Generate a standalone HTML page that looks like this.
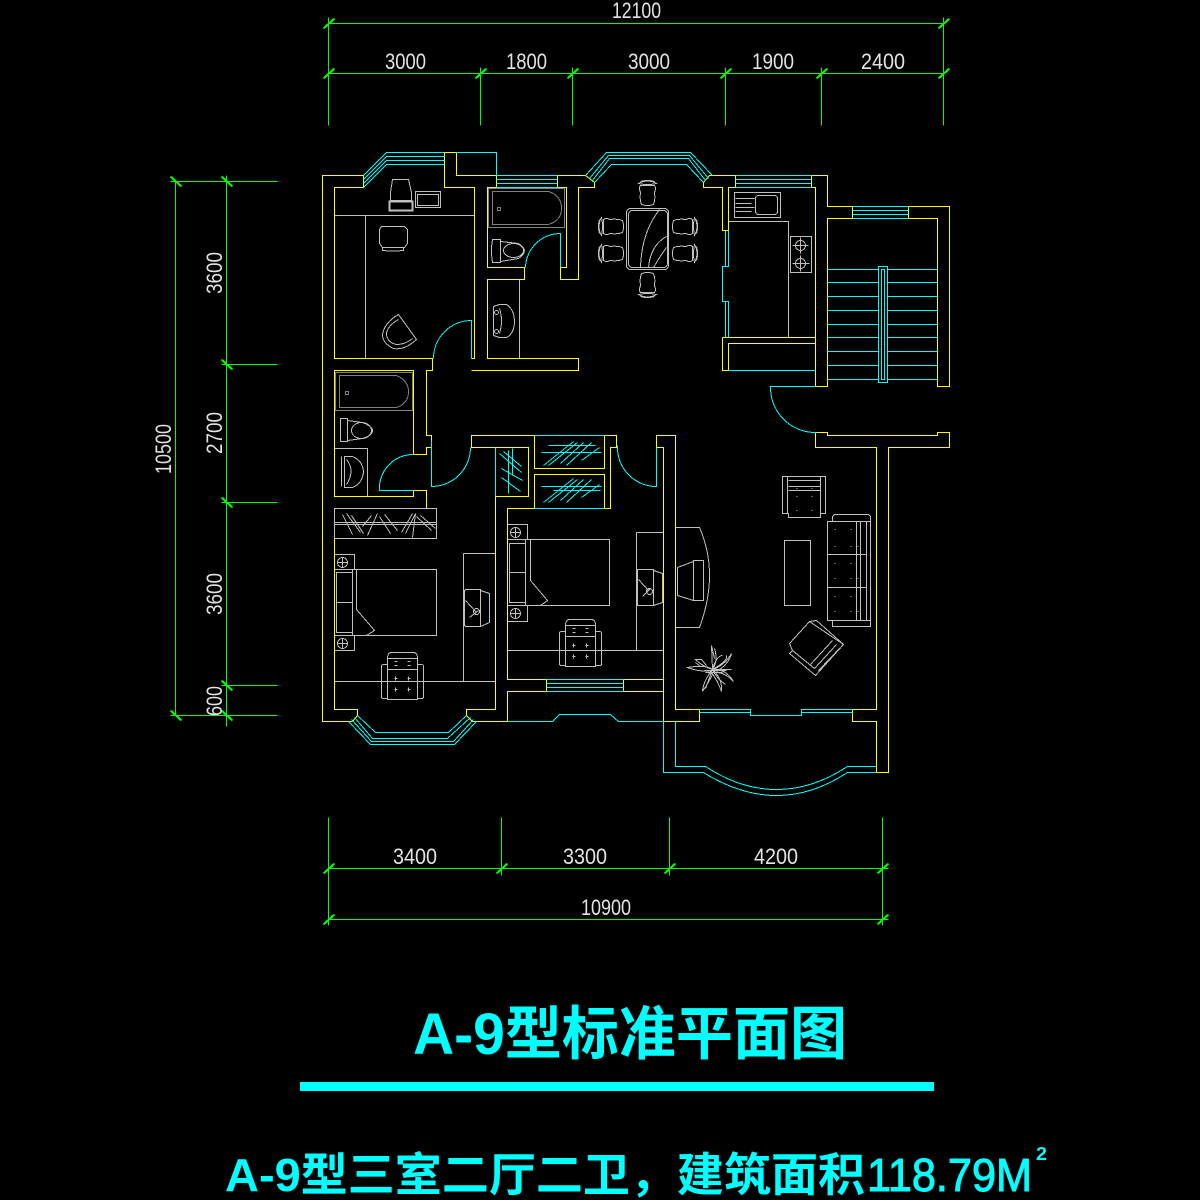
<!DOCTYPE html>
<html><head><meta charset="utf-8"><style>html,body{margin:0;padding:0;background:#000}svg{display:block}
.d{font-family:"Liberation Sans",sans-serif;font-size:22px;fill:#e4e4e4}
.t{font-family:"Liberation Sans","Noto Sans CJK SC",sans-serif;fill:#0ff;font-weight:bold}</style></head><body>
<svg xmlns="http://www.w3.org/2000/svg" width="1200" height="1200" viewBox="0 0 1200 1200">
<rect width="1200" height="1200" fill="#000"/>
<defs>
<g id="deskchair" fill="none">
<path d="M0 6V47H30V6M0 6Q0 0 4 0H26Q30 0 30 6H0M0 17H30M-4 12H0M-4 12Q-6 12 -6 14V44Q-6 46 -4 46H0M30 12H34Q36 12 36 14V44Q36 46 34 46H30"/>
<path d="M7 9h3M20 9h3M7 13h3M20 13h3M7 26h3M8 24v4M20 26h3M21 24v4M7 37h3M8 35v4M20 37h3M21 35v4" stroke-width="1"/>
</g>
<g id="din" fill="none">
<path d="M-7 -4Q-9 -9 -7 -11H7Q9 -9 7 -4Q8 3 6 8Q0 10 -6 8Q-8 3 -7 -4Z"/>
<path d="M-9 -13Q0 -18 9 -13Q0 -11 -9 -13ZM-7 -15Q0 -17 7 -15"/>
</g>
<g id="stand" fill="none"><circle cx="0" cy="0" r="5"/><path d="M-5 0H5M0 -5V5"/></g>
</defs>
<g transform="translate(.5 .5)" fill="none" stroke-width="1" shape-rendering="crispEdges">
<!-- grey furniture -->
<g stroke="#c0c0c0">
<path d="M334 215H474M365 215V358"/>
<path d="M392 179H408L411 192V200H390V192Z"/>
<rect x="389" y="201" width="23" height="9" stroke-width="2"/>
<rect x="415" y="191" width="25" height="16"/><rect x="417" y="194" width="21" height="11"/>
<path d="M381 226H404L407 229V243L404 247H382L379 243V229ZM382 247V250Q392 251 403 250V247"/>
<path d="M398 314L416 339Q404 350 393 348Q382 343 382 334Q384 322 398 314ZM398 319Q386 326 386 334Q387 342 396 344Q405 344 412 338"/>
<path d="M519 279V358"/>
<path d="M493 306V335M493 306L499 304H506Q513 308 514 320Q514 333 506 337H499L493 335M499 308Q503 320 499 333M496 310a2 2 0 1 0 .1 0M496 329a2 2 0 1 0 .1 0"/>
<path d="M492 239H500V262H492Q490 250 492 239ZM500 241L518 243Q524 247 524 250Q524 254 518 258L500 261"/>
<ellipse cx="513" cy="250" rx="10" ry="7"/>
<path d="M340 418H347V441H340ZM347 420L362 422Q372 426 372 430Q372 435 362 438L347 440"/><ellipse cx="361" cy="430" rx="10" ry="8"/>
<path d="M334 448H367V496"/>
<path d="M341 456V486M344 456H352Q362 460 363 471Q362 483 352 487H344ZM346 459Q355 470 346 484"/>
<!-- kitchen -->
<path d="M728 221H788V337"/>
<rect x="734" y="192" width="46" height="25"/>
<rect x="755" y="195" width="22" height="19" rx="3"/>
<path d="M735 198H754M735 203H751M735 207H754M735 211H751"/>
<rect x="790" y="236" width="21" height="36"/>
<use href="#stand" x="800" y="245"/><use href="#stand" x="800" y="263"/>
<path d="M792 245H808M800 237V253M792 263H809M800 255V271"/>
<!-- dining -->
<rect x="626" y="208" width="42" height="61" rx="4"/><rect x="628" y="210" width="39" height="57" rx="4"/>
<path d="M659 209Q641 232 640 267M666 236Q650 245 648 267M666 247Q660 255 653 267"/>
<use href="#din" x="647" y="196"/>
<use href="#din" transform="translate(647 281) rotate(180)"/>
<use href="#din" transform="translate(614 226) rotate(-90)"/>
<use href="#din" transform="translate(614 253) rotate(-90)"/>
<use href="#din" transform="translate(681 226) rotate(90)"/>
<use href="#din" transform="translate(681 253) rotate(90)"/>
<!-- wardrobe -->
<rect x="334" y="508" width="102" height="30"/><path d="M334 522H436M334 524H436"/>
<path d="M342 514L352 534M346 513L360 532M351 515L363 533M362 526L371 515M367 535L377 513M379 516L390 533M384 514L397 530M401 532L412 513M405 533L415 513M420 515L435 528M416 516L431 530M412 537L415 513"/>
<!-- bed 1 -->
<rect x="334" y="569" width="102" height="66"/><path d="M352 569V635M356 569V609L374 630L366 635"/>
<rect x="336" y="572" width="16" height="60"/><path d="M336 602H352"/>
<rect x="334" y="554" width="20" height="15"/><rect x="334" y="635" width="20" height="15"/>
<use href="#stand" x="342" y="562"/><use href="#stand" x="342" y="643"/>
<path d="M463 553H495M463 553V681M334 681H495"/>
<path d="M465 589H480V626H465L464 625V590ZM480 590L489 593V622L480 626M465 600L476 612M469 617L478 610"/><circle cx="476" cy="611" r="3"/>
<use href="#deskchair" x="387" y="652"/>
<!-- bed 2 -->
<rect x="525" y="539" width="84" height="66"/><path d="M530 539V580L547 600L540 605"/>
<rect x="509" y="543" width="16" height="59"/><path d="M509 572H525"/>
<rect x="507" y="524" width="20" height="15"/><rect x="507" y="605" width="20" height="16"/>
<use href="#stand" x="515" y="532"/><use href="#stand" x="515" y="613"/>
<path d="M636 532H663M636 532V650M507 650H663"/>
<path d="M637 569H653V605H637ZM653 570L662 573V602L653 605M638 579L648 590M642 596L650 588"/><circle cx="649" cy="591" r="3"/>
<use href="#deskchair" x="565" y="619"/>
<!-- living -->
<path d="M675 527H699Q709 550 709 575Q709 600 699 627H675"/>
<path d="M693 560H703V600H693ZM693 561L677 567V595L693 600"/>
<path d="M782 476H825V513H820V517H788V513H782Z"/><path d="M787 476V513M820 476V513M788 480H820M788 486H820M788 490H820"/>
<path d="M796 488h1M811 488h1M796 496h1M811 496h1M796 510h1M811 510h1"/>
<rect x="784" y="540" width="26" height="65"/>
<path d="M827 521H870V620H827ZM832 521V516L834 514H868L870 516V521M832 620V626H870V620M827 554H866M827 587H866M856 521V620M860 521V620M866 521V620"/>
<path d="M834 529h1M850 529h1M834 546h1M850 546h1M834 563h1M850 563h1M834 578h1M850 578h1M834 596h1M850 596h1M834 611h1M850 611h1M857 546h1M857 578h1M857 611h1"/>
<path d="M809 621L789 643L792 650L789 653L815 675L843 644L816 620ZM809 621L843 644M792 650L814 668M810 664L832 640M814 668L836 644M818 670L840 647"/>
<path d="M712 669L711 645L714 658M712 669Q718 660 714 648M712 669Q716 655 722 655M712 669Q724 665 731 653Q728 664 716 671M712 669H731M712 669Q725 668 733 681Q725 672 715 672M712 669Q722 678 721 691Q717 680 711 672M712 669Q703 680 702 691Q708 682 712 674M712 669Q706 664 687 667Q700 672 712 670M712 669Q702 666 695 659H701L706 665M700 666L695 662M712 669Q728 660 726 655M712 669Q716 678 725 684M712 669Q708 680 705 688M705 672H722M704 670H726"/>
</g>
<g stroke="#808080">
<rect x="488" y="188" width="76" height="39"/>
<path d="M492 191H548Q561 195 561 208Q561 220 548 224H492Z"/><rect x="497" y="207" width="3" height="3"/>
<rect x="335" y="372" width="77" height="38"/>
<path d="M339 375H396Q408 380 408 391Q408 403 396 407H339Z"/><rect x="345" y="391" width="3" height="3"/>
</g>
<!-- yellow -->
<g stroke="#ff0">
<path d="M363 175H322V721H352M363 175V187H334V358H432V370H426V435H431V447H426V454H413V370H334V496H413V490H426V508"/>
<path d="M444 152H456V175H496M444 152V187H474V358H471M471 370H578V358H487V279H524V267H487V187H496"/>
<path d="M557 175H585L594 182V187H578V279H560V267H566V187H557"/>
<path d="M496 175V187M557 175V187"/>
<path d="M703 182V187H722V230H728V187H735V175H709L703 182M735 175V187M811 175V187"/>
<path d="M811 175H827V206H852V218H827V386H815V187H811M852 206V218M908 206V218M908 206H949V386H937V218H908"/>
<path d="M722 337H815M722 337V370H728V343H815"/>
<path d="M815 432H827V435H937V432H949V447H888V772H876V721H852V709H876V447H815V432"/>
<path d="M699 709H675V435H656V447H663V721H699V709"/>
<path d="M534 435H471V447H495M604 435H616V447H610V508H604V474H534V508H507V679H546V691H507V721H472L466 715V709H495V496M495 447H528V496H495"/>
<path d="M534 435V468H604V435"/>
<path d="M546 679V691M623 679V691M623 679H663M623 691H663V721"/>
<path d="M352 721L357 715V709H334V538"/>
</g>
<!-- cyan -->
<g stroke="#0ff">
<path d="M363 175L386 152H444M363 179L386 156H444M363 183L386 160H444M363 187L386 164H444"/>
<path d="M456 152H496V175"/>
<path d="M496 179H557M496 183H557M496 175H557M496 187H557"/>
<path d="M433 358A38 38 0 0 1 471 320V358M525 267A35 35 0 0 1 560 233V267"/>
<path d="M585 175L606 152H690L712 175M589 178L608 155H689L708 178M592 180L609 158H688L705 180M594 182L611 164H686L703 182"/>
<path d="M735 179H811M735 183H811M735 175H811M735 187H811"/>
<path d="M852 206H908M852 210H908M852 214H908M852 218H908"/>
<path d="M827 269H878M827 282H878M827 296H878M827 310H878M827 324H878M827 337H878M827 351H878M827 365H878M827 379H878M887 269H937M887 282H937M887 296H937M887 310H937M887 324H937M887 337H937M887 351H937M887 365H937M887 379H937"/>
<rect x="878" y="266" width="9" height="116"/><rect x="881" y="269" width="3" height="110"/>
<path d="M728 230V266H722V301H728V337M725 230V266M725 301V337M728 370H815"/>
<path d="M815 386H770A45 45 0 0 0 816 432"/>
<path d="M617 445A39 39 0 0 0 656 486V447"/>
<path d="M431 440V486A39 39 0 0 0 470 447"/>
<path d="M413 454H411A34 34 0 0 0 379 490H413"/>
<path d="M699 709H750V715H801V709H852M699 712H750M801 712H852"/>
<path d="M663 721V772H703Q740 795 776 795Q812 795 847 772H876M675 721V766H705Q740 789 776 789Q812 789 847 766H876"/>
<path d="M348 721L370 744H454L476 721M351 719L371 741H453L473 719M354 717L372 738H447L470 717M357 715L375 732H448L466 715"/>
<path d="M546 679H623M546 683H623M546 687H623M546 691H623"/>
<path d="M507 721H552L559 714H610L618 721H663"/>
<path d="M534 435H604M534 508H604"/>
<path d="M541 452H601M548 445H595M543 465L573 441M548 465L577 442M566 465L591 442M560 463L583 442M581 460L599 447"/>
<path d="M541 486H601M553 490H600M543 502L573 478M548 502L577 479M566 502L591 479M560 500L583 479M581 497L599 484"/>
<path d="M508 450V493M512 448V475M499 453L521 472M503 451L521 466M501 468L522 480M501 477L520 491"/>
<path d="M495 447V496"/>
</g>
<!-- green dims -->
<g stroke="#0f0">
<path d="M328 23H944M328 73H944M328 17V125M480 67V125M572 67V125M725 67V125M821 67V125M943 17V125"/>
<path d="M328 868H888M328 919H888M328 817V925M501 817V875M669 817V875M882 817V925"/>
<path d="M175 181V715M226 175V726M170 181H277M221 364H277M221 502H277M221 685H277M170 715H277"/>
<g stroke-width="2">
<path d="M323 28L334 18M323 78L334 68M475 78L486 68M567 78L578 68M720 78L731 68M816 78L827 68M938 78L949 68M938 28L949 18"/>
<path d="M323 873L334 863M323 924L334 914M496 873L507 863M664 873L675 863M877 873L888 863M877 924L888 914"/>
<path d="M170 176L181 186M221 176L232 186M221 359L232 369M221 497L232 507M221 680L232 690M221 710L232 720M170 710L181 720"/>
</g>
</g>
</g>
<!-- dim text -->
<text class="d" x="612" y="18" textLength="49" lengthAdjust="spacingAndGlyphs">12100</text>
<text class="d" x="385" y="69" textLength="41" lengthAdjust="spacingAndGlyphs">3000</text>
<text class="d" x="506" y="69" textLength="41" lengthAdjust="spacingAndGlyphs">1800</text>
<text class="d" x="628" y="69" textLength="42" lengthAdjust="spacingAndGlyphs">3000</text>
<text class="d" x="752" y="69" textLength="42" lengthAdjust="spacingAndGlyphs">1900</text>
<text class="d" x="861" y="69" textLength="44" lengthAdjust="spacingAndGlyphs">2400</text>
<text class="d" x="393" y="864" textLength="44" lengthAdjust="spacingAndGlyphs">3400</text>
<text class="d" x="563" y="864" textLength="44" lengthAdjust="spacingAndGlyphs">3300</text>
<text class="d" x="754" y="864" textLength="44" lengthAdjust="spacingAndGlyphs">4200</text>
<text class="d" x="581" y="915" textLength="50" lengthAdjust="spacingAndGlyphs">10900</text>
<text class="d" transform="translate(171 474) rotate(-90)" textLength="50" lengthAdjust="spacingAndGlyphs">10500</text>
<text class="d" transform="translate(222 294) rotate(-90)" textLength="42" lengthAdjust="spacingAndGlyphs">3600</text>
<text class="d" transform="translate(222 454) rotate(-90)" textLength="42" lengthAdjust="spacingAndGlyphs">2700</text>
<text class="d" transform="translate(222 615) rotate(-90)" textLength="42" lengthAdjust="spacingAndGlyphs">3600</text>
<text class="d" transform="translate(222 716) rotate(-90)" textLength="30" lengthAdjust="spacingAndGlyphs">600</text>
<!-- titles -->
<text class="t" x="413" y="1054" font-size="58" textLength="434" lengthAdjust="spacingAndGlyphs">A-9型标准平面图</text>
<rect x="300" y="1082" width="634" height="9" fill="#0ff"/>
<text class="t" x="225" y="1191" font-size="46" textLength="640" lengthAdjust="spacingAndGlyphs">A-9型三室二厅二卫，建筑面积</text>
<text class="t" x="867" y="1191" font-size="46" textLength="165" lengthAdjust="spacingAndGlyphs" style="font-weight:normal;stroke:#0ff;stroke-width:1">118.79M</text>
<text class="t" x="1036" y="1160" font-size="18" textLength="11" lengthAdjust="spacingAndGlyphs">2</text>
</svg>
</body></html>
